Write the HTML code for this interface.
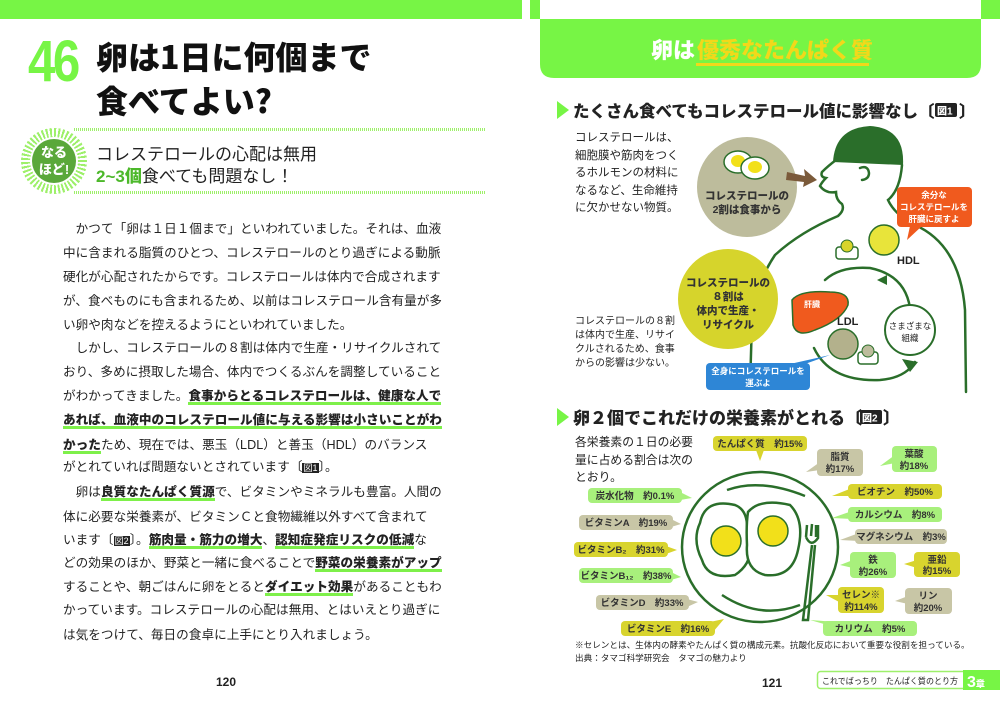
<!DOCTYPE html>
<html><head><meta charset="utf-8">
<style>
html,body{margin:0;padding:0;background:#fff;}
body{width:1000px;height:711px;position:relative;overflow:hidden;font-family:"Liberation Sans","Noto Sans CJK JP",sans-serif;color:#222;}
.abs{position:absolute;}
.ln{position:absolute;left:63px;font-size:12.6px;letter-spacing:0.05px;white-space:nowrap;line-height:18px;}
.ln b{font-weight:900;background:linear-gradient(#7ef04a,#7ef04a) no-repeat;background-size:100% 3px;background-position:0 100%;padding-bottom:2px;}
svg text{font-family:"Liberation Sans","Noto Sans CJK JP",sans-serif;}
</style></head><body>
<div class="abs" style="left:0;top:0;width:522px;height:19px;background:#77f545"></div>
<div class="abs" style="left:28px;top:28px;font-size:58px;font-weight:900;color:#77f545;letter-spacing:-3px;font-family:'Liberation Sans',sans-serif;transform:scaleX(0.85);transform-origin:left">46</div>
<div class="abs" style="left:96px;top:34px;font-size:32px;font-weight:900;line-height:44px;color:#111;font-family:'Noto Sans CJK JP',sans-serif">卵は1日に何個まで<br>食べてよい?</div>
<div class="abs" style="left:74px;top:128px;width:412px;height:3px;background:repeating-linear-gradient(90deg,#9ef06a 0 1px,#fff 1px 2px)"></div>
<div class="abs" style="left:74px;top:191px;width:412px;height:3px;background:repeating-linear-gradient(90deg,#9ef06a 0 1px,#fff 1px 2px)"></div>
<div class="abs" style="left:21px;top:128px;width:66px;height:66px;border-radius:50%;background:repeating-conic-gradient(#9ef06a 0 4deg,#fff 4deg 8deg)"></div>
<div class="abs" style="left:30px;top:137px;width:48px;height:48px;border-radius:50%;background:#fff"></div>
<div class="abs" style="left:32px;top:139px;width:44px;height:44px;border-radius:50%;background:#5aa83a;color:#fff;font-size:13px;font-weight:900;text-align:center;line-height:17px;padding-top:5px;box-sizing:border-box">なる<br>ほど!</div>
<div class="abs" style="left:96px;top:144px;font-size:17px;line-height:22px;color:#222">コレステロールの心配は無用<br><span style="color:#4cb82a;font-weight:900">2~3個</span>食べても問題なし！</div>

<div class="ln" style="top:220px">　かつて「卵は１日１個まで」といわれていました。それは、血液</div>
<div class="ln" style="top:244px">中に含まれる脂質のひとつ、コレステロールのとり過ぎによる動脈</div>
<div class="ln" style="top:268px">硬化が心配されたからです。コレステロールは体内で合成されます</div>
<div class="ln" style="top:292px">が、食べものにも含まれるため、以前はコレステロール含有量が多</div>
<div class="ln" style="top:316px">い卵や肉などを控えるようにといわれていました。</div>
<div class="ln" style="top:339px">　しかし、コレステロールの８割は体内で生産・リサイクルされて</div>
<div class="ln" style="top:363px">おり、多めに摂取した場合、体内でつくるぶんを調整していること</div>
<div class="ln" style="top:387px">がわかってきました。<b>食事からとるコレステロールは、健康な人で</b></div>
<div class="ln" style="top:411px"><b>あれば、血液中のコレステロール値に与える影響は小さいことがわ</b></div>
<div class="ln" style="top:436px"><b>かった</b>ため、現在では、悪玉（LDL）と善玉（HDL）のバランス</div>
<div class="ln" style="top:458px">がとれていれば問題ないとされています〔<span style="background:#222;color:#fff;font-size:9px;padding:0 1px">図1</span>〕。</div>
<div class="ln" style="top:483px">　卵は<b>良質なたんぱく質源</b>で、ビタミンやミネラルも豊富。人間の</div>
<div class="ln" style="top:508px">体に必要な栄養素が、ビタミンＣと食物繊維以外すべて含まれて</div>
<div class="ln" style="top:531px">います〔<span style="background:#222;color:#fff;font-size:9px;padding:0 1px">図2</span>〕。<b>筋肉量・筋力の増大</b>、<b>認知症発症リスクの低減</b>な</div>
<div class="ln" style="top:554px">どの効果のほか、野菜と一緒に食べることで<b>野菜の栄養素がアップ</b></div>
<div class="ln" style="top:578px">することや、朝ごはんに卵をとると<b>ダイエット効果</b>があることもわ</div>
<div class="ln" style="top:601px">かっています。コレステロールの心配は無用、とはいえとり過ぎに</div>
<div class="ln" style="top:626px">は気をつけて、毎日の食卓に上手にとり入れましょう。</div>
<div class="abs" style="left:216px;top:675px;font-size:12px;font-weight:700">120</div>

<svg class="abs" style="left:0;top:0" width="1000" height="711" viewBox="0 0 1000 711">
<rect x="530" y="0" width="10" height="19" fill="#77f545"/>
<rect x="981" y="0" width="19" height="19" fill="#77f545"/>
<path d="M540 19 H981 V64 Q981 78 967 78 H554 Q540 78 540 64 Z" fill="#77f545"/>
<text x="651" y="58" font-size="22" font-weight="900" fill="#fff">卵は</text>
<text x="697" y="58" font-size="22" font-weight="900" fill="#f2d81a">優秀なたんぱく質</text>
<rect x="696" y="63" width="173" height="3" fill="#f2d81a"/>

<polygon points="557,101 557,119 569,110" fill="#77f545"/>
<text x="573" y="117" font-size="16.5" font-weight="900" fill="#222">たくさん食べてもコレステロール値に影響なし〔</text>
<text x="959" y="117" font-size="16.5" font-weight="900" fill="#222">〕</text>
<rect x="935" y="103" width="22" height="14" rx="2" fill="#222"/>
<text x="937" y="114.5" font-size="10" font-weight="900" fill="#fff">図1</text>
<g font-size="11.5" fill="#222">
<text x="575" y="141">コレステロールは、</text>
<text x="575" y="159">細胞膜や筋肉をつく</text>
<text x="575" y="176">るホルモンの材料に</text>
<text x="575" y="194">なるなど、生命維持</text>
<text x="575" y="211">に欠かせない物質。</text>
</g>
<g font-size="10" fill="#222">
<text x="575" y="324">コレステロールの８割</text>
<text x="575" y="338">は体内で生産、リサイ</text>
<text x="575" y="352">クルされるため、食事</text>
<text x="575" y="366">からの影響は少ない。</text>
</g>
<g fill="none" stroke="#2a6e2a" stroke-width="2.5" stroke-linecap="round">
<path d="M836 160 Q828 166 822 172 Q820 177 826 178 Q822 182 820 186 Q826 194 836 192 Q836 200 842 204 Q845 210 838 216 Q800 232 775 255 Q755 285 752 320 L750 388"/>
<path d="M902 165 Q900 190 888 200 Q895 215 915 225 Q960 245 965 310 L966 392"/>
<path d="M860 168 q8 -3 9 5 q0 6 -7 7"/>
<path d="M814 348 Q830 382 880 380 Q905 378 915 362" />
<path d="M910 308 Q905 275 870 268 Q840 266 825 280" />
</g>
<path d="M833 162 Q835 128 870 126 Q905 128 903 165 Z" fill="#2a6e2a"/>
<circle cx="838" cy="158" r="1.5" fill="#2a6e2a"/>
<polygon points="887,275 877,280 887,285" fill="#2a6e2a"/>
<polygon points="902,359 918,362 910,372" fill="#2a6e2a"/>
<circle cx="747" cy="187" r="50" fill="#bdbc9c"/>
<ellipse cx="738" cy="162" rx="14" ry="11" fill="#fff" stroke="#2a6e2a" stroke-width="1.5"/>
<ellipse cx="738" cy="161" rx="7" ry="6" fill="#f2e01a"/>
<ellipse cx="755" cy="168" rx="14" ry="11" fill="#fff" stroke="#2a6e2a" stroke-width="1.5"/>
<ellipse cx="755" cy="167" rx="7" ry="6" fill="#f2e01a"/>
<text x="747" y="199" font-size="10.5" font-weight="900" text-anchor="middle" fill="#333">コレステロールの</text>
<text x="747" y="213" font-size="10.5" font-weight="900" text-anchor="middle" fill="#333">2割は食事から</text>
<polygon points="787,172 805,176 804,169 817,180 803,187 804,182 786,180" fill="#7b5a3a"/>
<rect x="897" y="187" width="75" height="40" rx="4" fill="#f05a1e"/>
<polygon points="910,226 922,226 907,240" fill="#f05a1e"/>
<g font-size="8.5" font-weight="700" fill="#fff" text-anchor="middle">
<text x="934" y="198">余分な</text><text x="934" y="210">コレステロールを</text><text x="934" y="222">肝臓に戻すよ</text></g>
<circle cx="884" cy="240" r="15" fill="#e8e43a" stroke="#2a6e2a" stroke-width="1.5"/>
<rect x="836" y="247" width="22" height="12" rx="3" fill="#fff" stroke="#2a6e2a" stroke-width="1.5"/>
<circle cx="847" cy="246" r="6" fill="#d8d42a" stroke="#2a6e2a"/>
<text x="897" y="264" font-size="11" font-weight="700" fill="#222">HDL</text>
<circle cx="728" cy="299" r="50" fill="#d6d42c"/>
<g font-size="10.5" font-weight="900" text-anchor="middle" fill="#333">
<text x="728" y="286">コレステロールの</text><text x="728" y="300">８割は</text><text x="728" y="314">体内で生産・</text><text x="728" y="328">リサイクル</text></g>
<path d="M792 300 Q800 290 830 292 Q850 292 848 305 Q842 320 815 330 Q797 338 793 325 Z" fill="#f05a1e" stroke="#2a6e2a" stroke-width="1.5"/>
<text x="804" y="307" font-size="8" font-weight="700" fill="#fff">肝臓</text>
<text x="837" y="325" font-size="11" font-weight="700" fill="#222">LDL</text>
<circle cx="843" cy="344" r="15" fill="#b3b18c" stroke="#2a6e2a" stroke-width="1.5"/>
<rect x="858" y="352" width="20" height="12" rx="3" fill="#fff" stroke="#2a6e2a" stroke-width="1.5"/>
<circle cx="868" cy="351" r="6" fill="#bdbc9c" stroke="#2a6e2a"/>
<circle cx="910" cy="330" r="25" fill="#fff" stroke="#2a6e2a" stroke-width="2"/>
<text x="910" y="329" font-size="8.5" text-anchor="middle" fill="#222">さまざまな</text>
<text x="910" y="341" font-size="8.5" text-anchor="middle" fill="#222">組織</text>
<polygon points="790,364 805,364 830,355" fill="#2e86d6"/>
<rect x="706" y="363" width="104" height="27" rx="4" fill="#2e86d6"/>
<text x="758" y="374" font-size="8.5" font-weight="700" text-anchor="middle" fill="#fff">全身にコレステロールを</text>
<text x="758" y="386" font-size="8.5" font-weight="700" text-anchor="middle" fill="#fff">運ぶよ</text>

<polygon points="557,408 557,426 569,417" fill="#77f545"/>
<text x="573" y="424" font-size="17" font-weight="900" fill="#222">卵２個でこれだけの栄養素がとれる〔</text>
<text x="883" y="424" font-size="17" font-weight="900" fill="#222">〕</text>
<rect x="860" y="410" width="22" height="14" rx="2" fill="#222"/>
<text x="862" y="421.5" font-size="10" font-weight="900" fill="#fff">図2</text>
<g font-size="11.8" fill="#222">
<text x="575" y="446">各栄養素の１日の必要</text>
<text x="575" y="464">量に占める割合は次の</text>
<text x="575" y="481">とおり。</text></g>
<g fill="none" stroke="#2a6e2a" stroke-width="2.5">
<ellipse cx="760" cy="547" rx="78" ry="75"/>
<path d="M727 490 Q760 478 805 496"/>
<path d="M722 595 Q760 620 800 605"/>
<path d="M700 523 Q705 498 735 505 Q748 510 747 530 Q758 560 735 575 Q708 580 702 560 Q692 540 700 523 Z" fill="#fff"/>
<path d="M748 512 Q760 498 790 505 Q805 520 798 550 Q792 578 765 575 Q745 570 747 545 Q746 525 748 512 Z" fill="#fff"/>
<path d="M806 537 L807 525 M811 536 L812 524 M816 537 L816 525 M806 537 Q811 548 818 538 L818 525 M812 545 L803 620 L808 620 L815 545"/>
</g>
<circle cx="726" cy="541" r="15" fill="#f2e01a" stroke="#2a6e2a" stroke-width="1.5"/>
<circle cx="773" cy="531" r="15" fill="#f2e01a" stroke="#2a6e2a" stroke-width="1.5"/>
<g font-size="9.5" font-weight="700" fill="#333" text-anchor="middle">
<polygon points="756,450 764,450 760,461" fill="#d8d42e"/>
<rect x="713" y="436" width="94" height="15" rx="4" fill="#d8d42e"/><text x="760" y="447">たんぱく質　約15%</text>
<polygon points="820,462 820,470 806,472" fill="#c8c6a6"/>
<rect x="817" y="449" width="46" height="27" rx="4" fill="#c8c6a6"/><text x="840" y="460">脂質</text><text x="840" y="472">約17%</text>
<polygon points="895,455 895,463 880,466" fill="#a8f07c"/>
<rect x="892" y="446" width="45" height="26" rx="4" fill="#a8f07c"/><text x="914" y="457">葉酸</text><text x="914" y="469">約18%</text>
<polygon points="680,492 680,500 692,498" fill="#a8f07c"/>
<rect x="588" y="488" width="94" height="15" rx="4" fill="#a8f07c"/><text x="635" y="499">炭水化物　約0.1%</text>
<polygon points="852,488 852,496 832,496" fill="#d8d42e"/>
<rect x="848" y="484" width="94" height="15" rx="4" fill="#d8d42e"/><text x="895" y="495">ビオチン　約50%</text>
<polygon points="671,519 671,527 681,524" fill="#c8c6a6"/>
<rect x="579" y="515" width="94" height="15" rx="4" fill="#c8c6a6"/><text x="626" y="526">ビタミンA　約19%</text>
<polygon points="852,511 852,519 832,518" fill="#a8f07c"/>
<rect x="848" y="507" width="94" height="15" rx="4" fill="#a8f07c"/><text x="895" y="518">カルシウム　約8%</text>
<polygon points="859,533 859,541 840,540" fill="#c8c6a6"/>
<rect x="855" y="529" width="92" height="15" rx="4" fill="#c8c6a6"/><text x="901" y="540">マグネシウム　約3%</text>
<polygon points="666,546 666,554 677,550" fill="#d8d42e"/>
<rect x="574" y="542" width="94" height="15" rx="4" fill="#d8d42e"/><text x="621" y="553">ビタミンB₂　約31%</text>
<polygon points="853,560 853,568 840,565" fill="#a8f07c"/>
<rect x="850" y="552" width="46" height="26" rx="4" fill="#a8f07c"/><text x="873" y="563">鉄</text><text x="873" y="575">約26%</text>
<polygon points="917,560 917,568 904,564" fill="#d8d42e"/>
<rect x="914" y="552" width="46" height="25" rx="4" fill="#d8d42e"/><text x="937" y="563">亜鉛</text><text x="937" y="574">約15%</text>
<polygon points="671,572 671,580 681,577" fill="#a8f07c"/>
<rect x="579" y="568" width="94" height="15" rx="4" fill="#a8f07c"/><text x="626" y="579">ビタミンB₁₂　約38%</text>
<polygon points="841,595 841,603 826,595" fill="#d8d42e"/>
<rect x="838" y="587" width="46" height="26" rx="4" fill="#d8d42e"/><text x="861" y="598">セレン※</text><text x="861" y="610">約114%</text>
<polygon points="908,596 908,604 895,601" fill="#c8c6a6"/>
<rect x="905" y="588" width="47" height="26" rx="4" fill="#c8c6a6"/><text x="928" y="599">リン</text><text x="928" y="611">約20%</text>
<polygon points="687,599 687,607 698,602" fill="#c8c6a6"/>
<rect x="596" y="595" width="93" height="15" rx="4" fill="#c8c6a6"/><text x="642" y="606">ビタミンD　約33%</text>
<polygon points="705,623 713,632 724,619" fill="#d8d42e"/>
<rect x="621" y="621" width="94" height="15" rx="4" fill="#d8d42e"/><text x="668" y="632">ビタミンE　約16%</text>
<polygon points="837,622 845,630 810,620" fill="#a8f07c"/>
<rect x="823" y="621" width="94" height="15" rx="4" fill="#a8f07c"/><text x="870" y="632">カリウム　約5%</text>
</g>
<text x="575" y="648" font-size="8.6" fill="#222">※セレンとは、生体内の酵素やたんぱく質の構成元素。抗酸化反応において重要な役割を担っている。</text>
<text x="575" y="661" font-size="8.6" fill="#222">出典：タマゴ科学研究会　タマゴの魅力より</text>
<text x="762" y="687" font-size="12" font-weight="700" fill="#222">121</text>
<rect x="817.5" y="671.5" width="150" height="17" rx="3" fill="#fff" stroke="#9ef06a" stroke-width="1.5"/>
<rect x="963" y="670" width="37" height="20" fill="#77f545"/>
<text x="822" y="684" font-size="8.5" fill="#222" textLength="136" lengthAdjust="spacingAndGlyphs">これでばっちり　たんぱく質のとり方</text>
<text x="967" y="687" font-size="16" font-weight="900" fill="#fff">3<tspan font-size="9">章</tspan></text>
</svg>
</body></html>
